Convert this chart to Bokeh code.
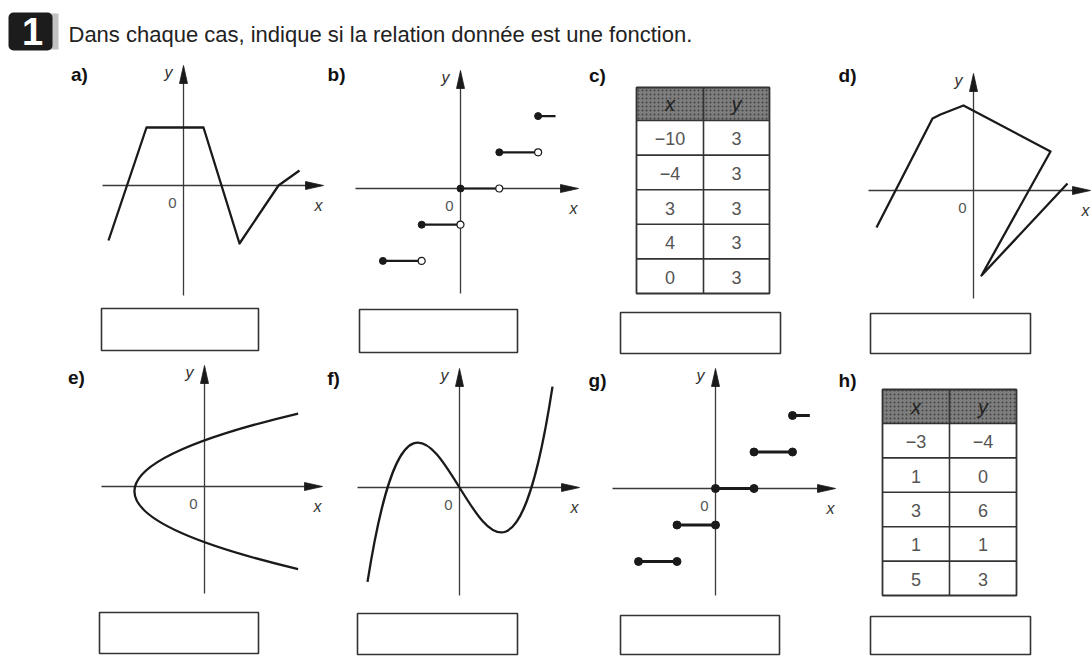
from bokeh.plotting import figure
from bokeh.models import Range1d
from bokeh.core.properties import value
from bokeh.embed import file_html
from bokeh.resources import INLINE

# ---------------- texts ----------------
TITLE = "Dans chaque cas, indique si la relation donnée est une fonction."
BADGE = "1"
PANEL_NAMES = ["a)", "b)", "c)", "d)", "e)", "f)", "g)", "h)"]
AXIS_X, AXIS_Y, ORIGIN = "x", "y", "0"

# ---------------- data (math units of each panel) ----------------
# a) broken line
a_x = [-3.75, -1.85, 1.0, 2.8, 4.75, 5.8]
a_y = [-2.75, 2.9, 2.9, -2.9, 0.0, 0.75]

# b) step function: left end closed, right end open
b_start = [-2, -1, 0, 1, 2]
b_end = [-1, 0, 1, 2, 2.45]
b_level = [-2, -1, 0, 1, 2]
b_open_right = [True, True, True, True, False]

# c) table
c_x = ["\u221210", "\u22124", "3", "4", "0"]
c_y = ["3", "3", "3", "3", "3"]

# d) broken line
d_x = [-4.85, -2.05, -1.65, -0.5, 3.85, 0.4, 4.7]
d_y = [-1.85, 3.6, 3.8, 4.25, 1.95, -4.25, 0.35]

# e) sideways parabola (quadratic Bezier: start, control, end)
e_start = (3.9, 3.04)
e_ctrl = (-9.74, -0.2)
e_end = (3.9, -3.44)

# f) cubic curve (cubic Bezier: start, control 1, control 2, end)
f_start = (-3.833, -3.934)
f_ctrl1 = (-1.264, 12.316)
f_ctrl2 = (1.306, -12.494)
f_end = (3.875, 4.203)

# g) step function: both ends closed
g_start = [-2, -1, 0, 1, 2]
g_end = [-1, 0, 1, 2, 2.45]
g_level = [-2, -1, 0, 1, 2]
g_closed_right = [True, True, True, True, False]

# h) table
h_x = ["\u22123", "1", "3", "1", "5"]
h_y = ["\u22124", "0", "6", "1", "3"]

# ---------------- layout ----------------
FX0, FX1, FY0, FY1 = 0, 1092, 0, 656
p = figure(width=FX1 - FX0, height=FY1 - FY0,
           x_range=Range1d(FX0, FX1), y_range=Range1d(FY1, FY0),
           output_backend="svg", toolbar_location=None,
           x_axis_location=None, y_axis_location=None,
           min_border=0, outline_line_color=None,
           background_fill_color="white", border_fill_color="white")
p.grid.visible = False

PANELS = {
    "a": dict(ox=183, oy=185, ux=20, uy=20, xl=102, xr=323, yb=295, yt=65),
    "b": dict(ox=460, oy=188, ux=38.8, uy=36.2, xl=355, xr=578, yb=293, yt=70),
    "d": dict(ox=973, oy=190, ux=20, uy=20, xl=868, xr=1090, yb=298, yt=73),
    "e": dict(ox=204, oy=486, ux=24, uy=24, xl=101, xr=322, yb=593, yt=365),
    "f": dict(ox=459, oy=487, ux=24, uy=24, xl=357, xr=579, yb=595, yt=368),
    "g": dict(ox=715, oy=488, ux=38.5, uy=36.5, xl=612, xr=835, yb=595, yt=368),
}
LABEL_POS = [(79, 74), (336, 74), (597, 75), (847, 75),
             (76, 377), (333, 378), (597, 380), (847, 380)]
BOXES = [(101, 258, 308, 350), (359, 517, 309, 352), (620, 780, 312, 353), (870, 1030, 313, 353),
         (99, 258, 612, 653), (357, 517, 613, 654), (620, 779, 615, 654), (870, 1030, 616, 654)]
TABLES = {
    "c": dict(left=636, right=769, mid=703, top=87, head=120, row=34.6, xs=c_x, ys=c_y),
    "h": dict(left=882, right=1016, mid=949, top=389, head=423, row=34.4, xs=h_x, ys=h_y),
}

INK = "#1a1a1a"
AX = "#3a3a3a"
FONT = "Liberation Sans"

# named ranges so each panel's math units go through Bokeh's scales
for name, g in PANELS.items():
    p.extra_x_ranges[name] = Range1d((FX0 - g["ox"]) / g["ux"], (FX1 - g["ox"]) / g["ux"])
    p.extra_y_ranges[name] = Range1d((g["oy"] - FY1) / g["uy"], (g["oy"] - FY0) / g["uy"])

# ---------------- axes with arrowheads ----------------
HL, HW = 18, 4
ax_x0, ax_x1, ax_y0, ax_y1 = [], [], [], []
hx, hy = [], []
for name, g in PANELS.items():
    ax_x0 += [g["xl"], g["ox"]]
    ax_x1 += [g["xr"] - 6, g["ox"]]
    ax_y0 += [g["oy"], g["yb"]]
    ax_y1 += [g["oy"], g["yt"] + 6]
    hx.append([g["xr"], g["xr"] - HL, g["xr"] - HL])
    hy.append([g["oy"], g["oy"] - HW, g["oy"] + HW])
    hx.append([g["ox"], g["ox"] - HW, g["ox"] + HW])
    hy.append([g["yt"], g["yt"] + HL, g["yt"] + HL])
p.segment(ax_x0, ax_y0, ax_x1, ax_y1, line_color=AX, line_width=1.3)
p.patches(hx, hy, fill_color=INK, line_color=INK, line_width=0.8)

# axis labels
lab_x, lab_y, lab_t = [], [], []
zx, zy = [], []
for name, g in PANELS.items():
    lab_x += [min(g["xr"] - 5, FX1 - 6), g["ox"] - 15]
    lab_y += [g["oy"] + 20, g["yt"] + 7]
    lab_t += [AXIS_X, AXIS_Y]
    zx.append(g["ox"] - 11)
    zy.append(g["oy"] + 17)
p.text(lab_x, lab_y, text=lab_t, text_font=value(FONT), text_font_style="italic",
       text_font_size="16px", text_color="#333333", text_align="center", text_baseline="middle")
p.text(zx, zy, text=[ORIGIN] * len(zx), text_font=value(FONT),
       text_font_size="15px", text_color="#555555", text_align="center", text_baseline="middle")

# ---------------- curves ----------------
CW = 2.3
p.line(a_x, a_y, x_range_name="a", y_range_name="a", line_color=INK, line_width=CW,
       line_join="round")
p.line(d_x, d_y, x_range_name="d", y_range_name="d", line_color=INK, line_width=CW,
       line_join="round")
p.quadratic(x0=[e_start[0]], y0=[e_start[1]], x1=[e_end[0]], y1=[e_end[1]],
            cx=[e_ctrl[0]], cy=[e_ctrl[1]], x_range_name="e", y_range_name="e",
            line_color=INK, line_width=CW)
p.bezier(x0=[f_start[0]], y0=[f_start[1]], x1=[f_end[0]], y1=[f_end[1]],
         cx0=[f_ctrl1[0]], cy0=[f_ctrl1[1]], cx1=[f_ctrl2[0]], cy1=[f_ctrl2[1]],
         x_range_name="f", y_range_name="f", line_color=INK, line_width=CW)

# b) steps
p.segment(b_start, b_level, b_end, b_level, x_range_name="b", y_range_name="b",
          line_color=INK, line_width=2.2)
p.scatter(b_start, b_level, x_range_name="b", y_range_name="b", marker="circle",
          size=7, fill_color=INK, line_color=INK)
bo_x = [e for e, o in zip(b_end, b_open_right) if o]
bo_y = [l for l, o in zip(b_level, b_open_right) if o]
p.scatter(bo_x, bo_y, x_range_name="b", y_range_name="b", marker="circle",
          size=7, fill_color="white", line_color=INK, line_width=1.2)

# g) steps
p.segment(g_start, g_level, g_end, g_level, x_range_name="g", y_range_name="g",
          line_color=INK, line_width=3)
p.scatter(g_start, g_level, x_range_name="g", y_range_name="g", marker="circle",
          size=8, fill_color=INK, line_color=INK)
gc_x = [e for e, c in zip(g_end, g_closed_right) if c]
gc_y = [l for l, c in zip(g_level, g_closed_right) if c]
p.scatter(gc_x, gc_y, x_range_name="g", y_range_name="g", marker="circle",
          size=8, fill_color=INK, line_color=INK)

# ---------------- tables ----------------
for name, t in TABLES.items():
    n = len(t["xs"])
    bottom = t["head"] + n * t["row"]
    p.quad(left=[t["left"]], right=[t["right"]], top=[t["top"]], bottom=[t["head"]],
           fill_color="#7e7e7e", hatch_pattern=".", hatch_color="#444444",
           hatch_scale=4, hatch_weight=1.5, line_color=None)
    p.quad(left=[t["left"]], right=[t["right"]], top=[t["top"]], bottom=[bottom],
           fill_color=None, line_color="#333333", line_width=1.8)
    rows_y = [t["head"] + i * t["row"] for i in range(n)]
    p.segment([t["left"]] * n, rows_y, [t["right"]] * n, rows_y,
              line_color="#333333", line_width=1.6)
    p.segment([t["mid"]], [t["top"]], [t["mid"]], [bottom], line_color="#333333", line_width=1.6)
    cx_l = (t["left"] + t["mid"]) / 2
    cx_r = (t["mid"] + t["right"]) / 2
    p.text([cx_l, cx_r], [(t["top"] + t["head"]) / 2] * 2, text=[AXIS_X, AXIS_Y],
           text_font=value(FONT), text_font_style="italic", text_font_size="20px",
           text_color="#222222", text_align="center", text_baseline="middle")
    cy = [t["head"] + (i + 0.5) * t["row"] + 1 for i in range(n)]
    p.text([cx_l] * n + [cx_r] * n, cy + cy, text=list(t["xs"]) + list(t["ys"]),
           text_font=value(FONT), text_font_size="18px",
           text_color="#555555", text_align="center", text_baseline="middle")

# ---------------- answer boxes ----------------
p.quad(left=[b[0] for b in BOXES], right=[b[1] for b in BOXES],
       top=[b[2] for b in BOXES], bottom=[b[3] for b in BOXES],
       fill_color=None, line_color="#333333", line_width=1.6)

# ---------------- header ----------------
p.quad(left=[46], right=[58], top=[13], bottom=[49], fill_color="#9a9a9a",
       fill_alpha=0.6, line_color=None)
p.quad(left=[8], right=[52], top=[12], bottom=[50], fill_color="#1c1c1c",
       line_color=None, border_radius=5)
p.text([32], [31], text=[BADGE], text_font=value(FONT), text_font_style="bold",
       text_font_size="38px", text_color="white", text_align="center", text_baseline="middle")
p.text([68], [34], text=[TITLE], text_font=value(FONT), text_font_size="22px",
       text_color="#222222", text_align="left", text_baseline="middle")

# panel letters
p.text([q[0] for q in LABEL_POS], [q[1] for q in LABEL_POS], text=PANEL_NAMES,
       text_font=value(FONT), text_font_style="bold", text_font_size="19px",
       text_color="#111111", text_align="center", text_baseline="middle")

open("out.html", "w").write(file_html(p, INLINE))
